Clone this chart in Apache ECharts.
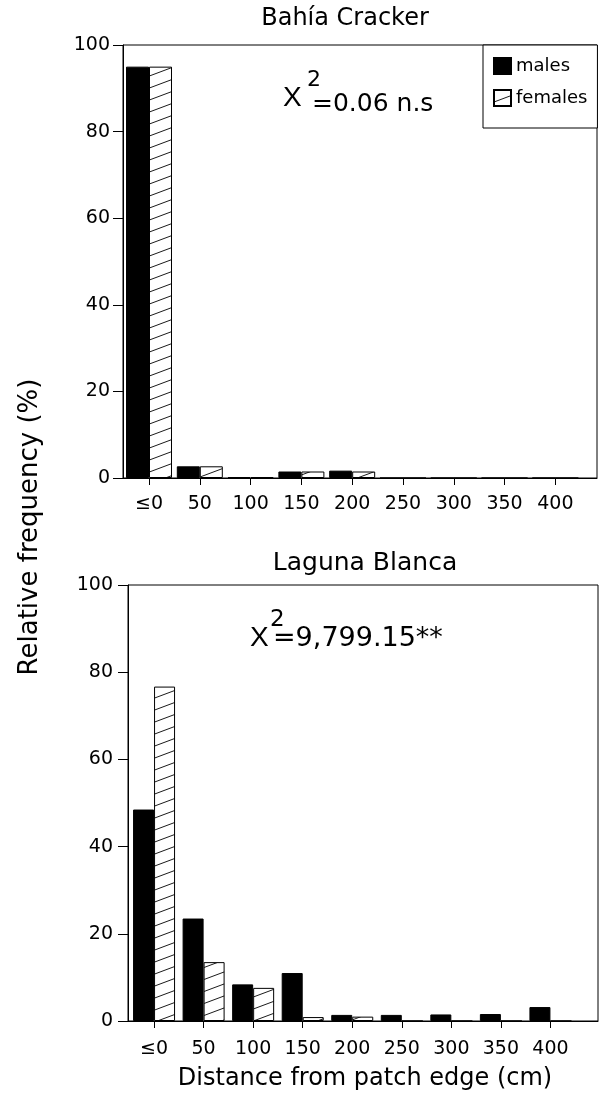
<!DOCTYPE html>
<html lang="en">
<head>
    <meta charset="UTF-8">
    <title>Distance from patch edge</title>
    <style>
        html, body, #container {
            width: 100%;
            height: 100%;
            margin: 0;
            padding: 0;
            background: #fff;
        }
    </style>
    <script src="https://cdn.jsdelivr.net/npm/echarts@6/dist/echarts.min.js"></script>
</head>
<body>
    <div id="container"></div>
    <script>
        // distance classes (cm) and their tick labels
        var distances = [0, 50, 100, 150, 200, 250, 300, 350, 400];
        var tickLabels = ['≤0', '50', '100', '150', '200', '250', '300', '350', '400'];

        // relative frequency (%)
        var bahiaMales = [95, 2.7, 0.2, 1.5, 1.7, 0, 0, 0, 0];
        var bahiaFemales = [95, 2.7, 0.2, 1.5, 1.5, 0, 0, 0, 0];
        var lagunaMales = [48.5, 23.5, 8.4, 11.0, 1.4, 1.4, 1.5, 1.6, 3.2];
        var lagunaFemales = [76.7, 13.5, 7.6, 0.9, 1.0, 0, 0, 0, 0];

        var font = 'DejaVu Sans';

        // diagonal hatch for the female bars
        function makeHatch() {
            var c = document.createElement('canvas');
            c.width = 32;
            c.height = 12;
            var ctx = c.getContext('2d');
            ctx.fillStyle = '#fff';
            ctx.fillRect(0, 0, 32, 12);
            ctx.strokeStyle = '#000';
            ctx.lineWidth = 0.9;
            [-12, 0, 12].forEach(function (dy) {
                ctx.beginPath();
                ctx.moveTo(0, 12 + dy);
                ctx.lineTo(32, 0 + dy);
                ctx.stroke();
            });
            return c;
        }
        var hatch = { image: makeHatch(), repeat: 'repeat' };

        function pairs(vals) {
            return distances.map(function (d, i) { return [d, vals[i]]; });
        }

        function xAxisFor(gridIndex, min, max, margin) {
            return {
                type: 'value',
                gridIndex: gridIndex,
                min: min,
                max: max,
                splitLine: { show: false },
                axisLine: { onZero: false, lineStyle: { color: '#000', width: 1 } },
                axisTick: { customValues: distances, length: 7, lineStyle: { color: '#000' } },
                axisLabel: {
                    customValues: distances,
                    margin: margin,
                    color: '#000',
                    fontFamily: font,
                    fontSize: 19,
                    formatter: function (v) {
                        var i = distances.indexOf(v);
                        return i >= 0 ? tickLabels[i] : '';
                    }
                }
            };
        }

        function yAxisFor(gridIndex, margin) {
            return {
                type: 'value',
                gridIndex: gridIndex,
                min: 0,
                max: 100,
                interval: 20,
                splitLine: { show: false },
                axisLine: { show: true, onZero: false, lineStyle: { color: '#000', width: 1 } },
                axisTick: { length: 10, lineStyle: { color: '#000' } },
                axisLabel: { margin: margin, color: '#000', fontFamily: font, fontSize: 19 }
            };
        }

        function barSeries(name, vals, axisIndex, width, color) {
            return {
                type: 'bar',
                name: name,
                xAxisIndex: axisIndex,
                yAxisIndex: axisIndex,
                data: pairs(vals),
                barWidth: width,
                barGap: '0%',
                itemStyle: { color: color, borderColor: '#000', borderWidth: 1 },
                emphasis: { disabled: true }
            };
        }

        function label(text, x, y, size, align, fam) {
            return {
                type: 'text',
                x: x,
                y: y,
                style: {
                    text: text,
                    fill: '#000',
                    font: size + 'px "' + (fam || font) + '"',
                    textAlign: align || 'left',
                    textVerticalAlign: 'middle'
                }
            };
        }

        var chart = echarts.init(document.getElementById('container'), null, { renderer: 'canvas' });

        chart.setOption({
            animation: false,
            backgroundColor: '#fff',
            grid: [
                { left: 123, top: 45, right: 2, height: 433, show: true, borderColor: '#000', borderWidth: 1 },
                { left: 128, top: 585, right: 1, height: 436, show: true, borderColor: '#000', borderWidth: 1 }
            ],
            xAxis: [
                xAxisFor(0, -25.6, 441, 17),
                xAxisFor(1, -26.3, 448, 19)
            ],
            yAxis: [
                yAxisFor(0, 13),
                yAxisFor(1, 15)
            ],
            legend: {
                data: ['males', 'females'],
                orient: 'vertical',
                left: 483,
                top: 45,
                padding: [12, 10, 21, 10],
                itemGap: 14,
                itemWidth: 17,
                itemHeight: 16,
                borderColor: '#000',
                borderWidth: 1,
                backgroundColor: '#fff',
                icon: 'rect',
                textStyle: { color: '#000', fontFamily: font, fontSize: 18 }
            },
            series: [
                barSeries('males', bahiaMales, 0, 23, '#000'),
                barSeries('females', bahiaFemales, 0, 23, hatch),
                barSeries('males', lagunaMales, 1, 21, '#000'),
                barSeries('females', lagunaFemales, 1, 21, hatch)
            ],
            graphic: [
                label('Bahía Cracker', 345, 19, 24, 'center'),
                label('Laguna Blanca', 365, 563, 25, 'center'),
                // chi-square annotations
                label('X', 283, 98, 28, 'left', 'Liberation Sans'),
                label('2', 307, 80, 22),
                label('=0.06 n.s', 312, 104, 25),
                label('X', 250, 638, 28, 'left', 'Liberation Sans'),
                label('2', 270, 620, 23),
                label('=9,799.15**', 273, 639, 27),
                // axis titles
                label('Distance from patch edge (cm)', 365, 1079, 24, 'center'),
                {
                    type: 'text',
                    x: 30,
                    y: 527,
                    rotation: Math.PI / 2,
                    style: {
                        text: 'Relative frequency (%)',
                        fill: '#000',
                        font: '26px "DejaVu Sans"',
                        textAlign: 'center',
                        textVerticalAlign: 'middle'
                    }
                }
            ]
        });
    </script>
</body>
</html>
